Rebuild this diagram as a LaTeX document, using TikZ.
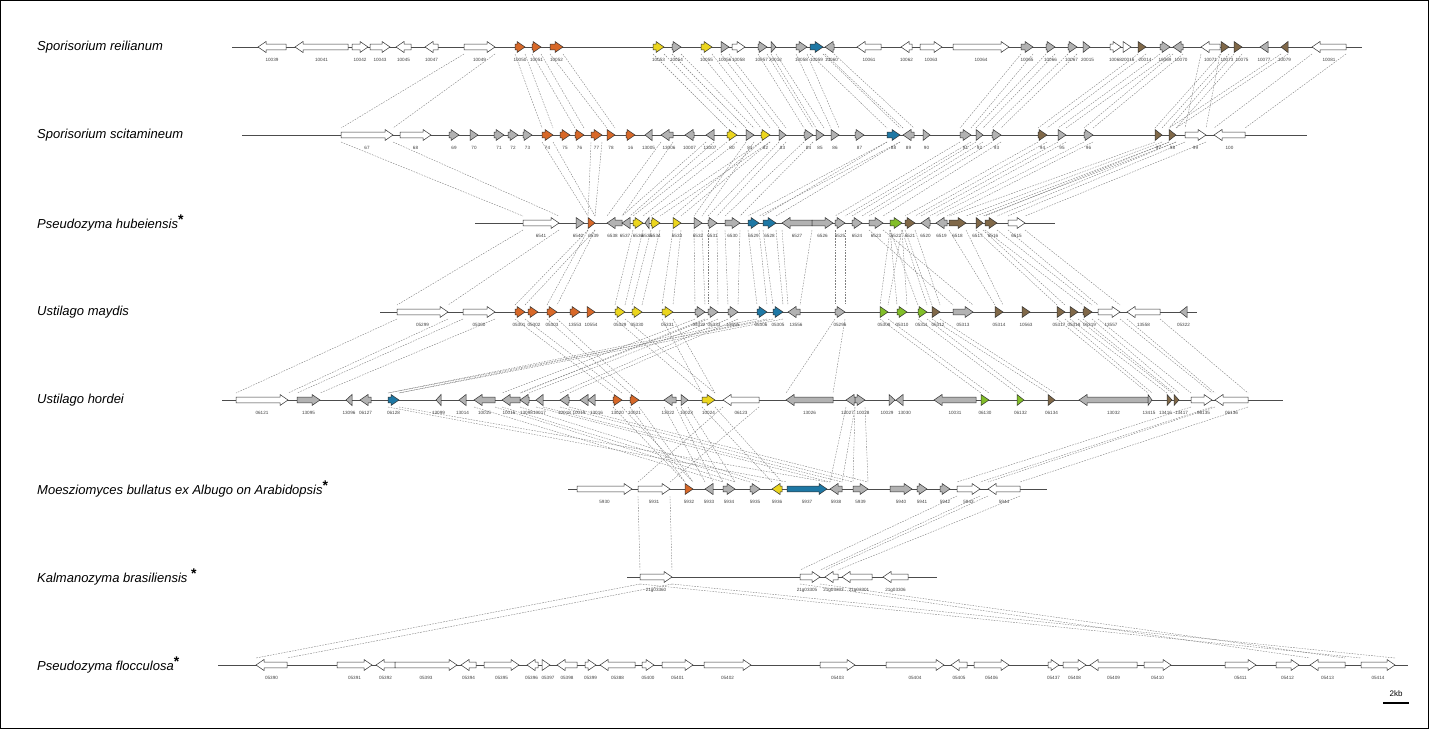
\documentclass[tikz,border=0pt]{standalone}
\usepackage{fontspec}
\setmainfont{Liberation Sans}
\pgfdeclarelayer{background}
\pgfdeclarelayer{paper}
\pgfsetlayers{paper,background,main}
\definecolor{gor}{RGB}{216,104,40}
\definecolor{gye}{RGB}{236,214,30}
\definecolor{ggr}{RGB}{178,178,178}
\definecolor{gbl}{RGB}{30,120,165}
\definecolor{ggn}{RGB}{130,190,40}
\definecolor{gbr}{RGB}{128,104,72}
\tikzset{
  gene/.style={draw=black!80, line width=0.5pt, line join=miter},
  glabel/.style={font=\fontsize{4.6}{5}\selectfont, text=black!75, inner sep=0pt},
  species/.style={font=\fontsize{13}{15}\selectfont\itshape, inner sep=0pt, anchor=west},
  backbone/.style={draw=black!70, line width=1pt},
  conn/.style={draw=black!50, line width=0.4pt, dash pattern=on 1.6pt off 1.2pt},
}
\def\rowy{47}
\newcommand{\gnb}[7]{%
  \pgfmathsetmacro{\gL}{#3-#2}%
  \pgfmathsetmacro{\gh}{min(\gL,8)}%
  \pgfmathsetmacro{\gtip}{#4>0 ? #3 : #2}%
  \pgfmathsetmacro{\gbase}{#4>0 ? #2 : #3}%
  \pgfmathsetmacro{\ghx}{\gtip - (#4)*\gh}%
  \pgfmathsetmacro{\gmid}{(#2+#3)/2+(#7)}%
  \filldraw[gene, fill=#5] (\gbase,\rowy-2.8) -- (\ghx,\rowy-2.8) -- (\ghx,\rowy-5.5) -- (\gtip,\rowy) -- (\ghx,\rowy+5.5) -- (\ghx,\rowy+2.8) -- (\gbase,\rowy+2.8) -- cycle;
  \coordinate (#1tl) at (#2,\rowy-7);
  \coordinate (#1tr) at (#3,\rowy-7);
  \coordinate (#1bl) at (#2,\rowy+7);
  \coordinate (#1br) at (#3,\rowy+7);
  \node[glabel] (#1lab) at (\gmid,\rowy+13) {#6};
}
\newcommand{\gn}[6]{\gnb{#1}{#2}{#3}{#4}{#5}{#6}{0}}
\newcommand{\lk}[2]{%
  \begin{pgfonlayer}{background}
  \draw[conn] (#1bl) -- (#2tl);
  \draw[conn] (#1br) -- (#2tr);
  \end{pgfonlayer}
}
\newcommand{\bb}[4]{% name, x1, x2, y
  \coordinate (#1s) at (#2,#4);
  \coordinate (#1e) at (#3,#4);
  \draw[backbone] (#1s) -- (#1e);
}
\begin{document}
\begin{tikzpicture}[x=1pt,y=-1pt]
\useasboundingbox (0,0) rectangle (1429,729);
\begin{pgfonlayer}{paper}
\fill[white] (0,0) rectangle (1429,729);
\end{pgfonlayer}
\draw[black, line width=0.8pt] (0.4,0.4) rectangle (1428.6,728.6);

% species names
\node[species] (s1) at (37,47) {Sporisorium reilianum};
\node[species] (s2) at (37,135) {Sporisorium scitamineum};
\node[species] (s3) at (37,223) {Pseudozyma hubeiensis\raisebox{4pt}{\fontsize{14}{14}\selectfont\upshape\bfseries *}};
\node[species] (s4) at (37,312) {Ustilago maydis};
\node[species] (s5) at (37,400) {Ustilago hordei};
\node[species] (s6) at (37,489) {Moesziomyces bullatus ex Albugo on Arabidopsis\raisebox{4pt}{\fontsize{14}{14}\selectfont\upshape\bfseries *}};
\node[species] (s7) at (37,577) {Kalmanozyma brasiliensis \raisebox{4pt}{\fontsize{14}{14}\selectfont\upshape\bfseries *}};
\node[species] (s8) at (37,665) {Pseudozyma flocculosa\raisebox{4pt}{\fontsize{14}{14}\selectfont\upshape\bfseries *}};

% backbones
\bb{r1}{232}{1362}{47}
\bb{r2}{242}{1307}{135}
\bb{r3}{475}{1055}{223}
\bb{r4}{380}{1197}{312}
\bb{r5}{222}{1283}{400}
\bb{r6}{568}{1047}{489}
\bb{r7}{627}{937}{577}
\bb{r8}{218}{1408}{665}

% row 1
\def\rowy{47}
\gn{a1}{258}{286}{-1}{white}{10039}
\gn{a2}{295}{348}{-1}{white}{10041}
\gn{a3}{352}{368}{1}{white}{10042}
\gn{a4}{370}{390}{1}{white}{10043}
\gn{a5}{396}{411}{-1}{white}{10045}
\gn{a6}{425}{438}{-1}{white}{10047}
\gn{a7}{464}{495}{1}{white}{10049}
\gn{a8}{515}{525}{1}{gor}{10050}
\gn{a9}{532}{541}{1}{gor}{10051}
\gn{a10}{550}{563}{1}{gor}{10052}
\gn{a11}{653}{664}{1}{gye}{10053}
\gn{a12}{672}{681}{1}{ggr}{10054}
\gn{a13}{701}{712}{1}{gye}{10055}
\gn{a14}{721}{729}{1}{ggr}{10056}
\gn{a15}{732}{745}{1}{white}{10058}
\gnb{a16}{758}{767}{1}{ggr}{10057}{-1}
\gnb{a17}{771}{776}{1}{ggr}{20012}{2}
\gn{a18}{796}{807}{1}{ggr}{10058}
\gn{a19}{810}{823}{1}{gbl}{10059}
\gnb{a20}{825}{834}{-1}{ggr}{10060}{2}
\gn{a21}{857}{881}{-1}{white}{10061}
\gn{a22}{901}{912}{-1}{white}{10062}
\gn{a23}{920}{942}{1}{white}{10063}
\gn{a24}{953}{1009}{1}{white}{10064}
\gn{a25}{1021}{1033}{1}{ggr}{10065}
\gn{a26}{1046}{1055}{1}{ggr}{10066}
\gnb{a27}{1068}{1077}{1}{ggr}{10067}{-1}
\gnb{a28}{1083}{1090}{1}{ggr}{20015}{1}
\gn{a29}{1110}{1121}{1}{white}{10068}
\gnb{a30}{1123}{1131}{1}{white}{20016}{1}
\gnb{a31}{1138}{1146}{1}{gbr}{20014}{3}
\gn{a32}{1160}{1170}{1}{ggr}{10069}
\gnb{a33}{1173}{1183}{-1}{ggr}{10070}{3}
\gn{a34}{1201}{1220}{-1}{white}{10071}
\gnb{a35}{1221}{1229}{1}{gbr}{10073}{2}
\gnb{a36}{1234}{1242}{1}{gbr}{10075}{4}
\gn{a37}{1260}{1268}{-1}{ggr}{10077}
\gn{a38}{1281}{1288}{-1}{gbr}{10079}
\gn{a39}{1312}{1346}{-1}{white}{10081}

% row 2
\def\rowy{135}
\gn{b1}{341}{393}{1}{white}{67}
\gn{b2}{400}{431}{1}{white}{68}
\gn{b3}{449}{459}{1}{ggr}{69}
\gn{b4}{470}{478}{1}{ggr}{70}
\gn{b5}{494}{504}{1}{ggr}{71}
\gn{b6}{508}{518}{1}{ggr}{72}
\gn{b7}{523}{532}{1}{ggr}{73}
\gn{b8}{542}{553}{1}{gor}{74}
\gn{b9}{560}{570}{1}{gor}{75}
\gn{b10}{575}{584}{1}{gor}{76}
\gn{b11}{591}{602}{1}{gor}{77}
\gn{b12}{607}{615}{1}{gor}{78}
\gn{b13}{626}{635}{1}{gor}{16}
\gn{b14}{645}{652}{-1}{ggr}{13005}
\gnb{b15}{661}{673}{-1}{ggr}{13006}{2}
\gn{b16}{685}{694}{-1}{ggr}{10007}
\gn{b17}{706}{714}{-1}{ggr}{13007}
\gn{b18}{727}{737}{1}{gye}{80}
\gn{b19}{746}{754}{1}{ggr}{81}
\gn{b20}{761}{770}{1}{gye}{82}
\gn{b21}{779}{786}{1}{ggr}{83}
\gn{b22}{804}{813}{1}{ggr}{84}
\gn{b23}{816}{824}{1}{ggr}{85}
\gn{b24}{831}{839}{1}{ggr}{86}
\gn{b25}{855}{864}{1}{ggr}{87}
\gn{b26}{887}{900}{1}{gbl}{88}
\gn{b27}{903}{914}{-1}{ggr}{89}
\gn{b28}{923}{930}{1}{ggr}{90}
\gn{b29}{960}{971}{1}{ggr}{91}
\gn{b30}{976}{983}{1}{ggr}{92}
\gn{b31}{992}{1001}{1}{ggr}{93}
\gn{b32}{1038}{1047}{1}{gbr}{94}
\gn{b33}{1058}{1066}{1}{ggr}{95}
\gn{b34}{1084}{1093}{1}{ggr}{96}
\gn{b35}{1155}{1162}{1}{gbr}{97}
\gn{b36}{1169}{1176}{1}{gbr}{98}
\gn{b37}{1185}{1206}{1}{white}{99}
\gn{b38}{1214}{1245}{-1}{white}{100}

% row 3
\def\rowy{223}
\gn{c1}{523}{559}{1}{white}{6541}
\gnb{c2}{576}{584}{1}{ggr}{6540}{-2}
\gnb{c3}{588}{595}{1}{gor}{6539}{2}
\gnb{c4}{607}{622}{-1}{ggr}{6538}{-2}
\gnb{c5}{622}{630}{-1}{ggr}{6537}{-1}
\gn{c6}{633}{643}{1}{gye}{6536}
\gn{c7}{645}{649}{-1}{ggr}{6535}
\gn{c8}{651}{660}{1}{gye}{6534}
\gn{c9}{673}{681}{1}{gye}{6533}
\gn{c10}{694}{702}{1}{ggr}{6532}
\gn{c11}{708}{717}{1}{ggr}{6531}
\gn{c12}{725}{740}{1}{ggr}{6530}
\gn{c13}{748}{759}{1}{gbl}{6529}
\gn{c14}{763}{776}{1}{gbl}{6528}
\gn{c15}{782}{812}{-1}{ggr}{6527}
\gn{c16}{812}{833}{1}{ggr}{6526}
\gn{c17}{835}{845}{1}{ggr}{6525}
\gn{c18}{852}{862}{1}{ggr}{6524}
\gn{c19}{869}{883}{1}{ggr}{6523}
\gn{c20}{890}{902}{1}{ggn}{6522}
\gn{c21}{905}{915}{1}{gbr}{6521}
\gn{c22}{921}{930}{-1}{ggr}{6520}
\gn{c23}{936}{947}{-1}{ggr}{6519}
\gn{c24}{949}{966}{1}{gbr}{6518}
\gnb{c25}{976}{983}{1}{gbr}{6517}{-2}
\gnb{c26}{985}{997}{1}{gbr}{6516}{2}
\gn{c27}{1008}{1025}{1}{white}{6515}

% row 4
\def\rowy{312}
\gn{d1}{397}{448}{1}{white}{05299}
\gn{d2}{463}{495}{1}{white}{05300}
\gnb{d3}{515}{525}{1}{gor}{05301}{-1}
\gnb{d4}{528}{538}{1}{gor}{05302}{1}
\gn{d5}{547}{557}{1}{gor}{05303}
\gn{d6}{570}{580}{1}{gor}{13553}
\gn{d7}{587}{595}{1}{gor}{10554}
\gn{d8}{615}{625}{1}{gye}{05329}
\gn{d9}{632}{642}{1}{gye}{05330}
\gn{d10}{662}{673}{1}{gye}{05331}
\gnb{d11}{695}{705}{1}{ggr}{05332}{-1}
\gnb{d12}{708}{718}{1}{ggr}{05333}{1}
\gn{d13}{728}{738}{1}{ggr}{13555}
\gnb{d14}{757}{767}{1}{gbl}{05306}{-1}
\gnb{d15}{773}{783}{1}{gbl}{05305}{0}
\gnb{d16}{788}{800}{-1}{ggr}{13556}{2}
\gn{d17}{835}{845}{1}{ggr}{05296}
\gn{d18}{880}{888}{1}{ggn}{05308}
\gn{d19}{897}{907}{1}{ggn}{05310}
\gnb{d20}{918}{927}{1}{ggn}{05311}{-1}
\gnb{d21}{932}{940}{1}{gbr}{05312}{2}
\gn{d22}{953}{973}{1}{ggr}{05313}
\gn{d23}{995}{1003}{1}{gbr}{05314}
\gn{d24}{1022}{1030}{1}{gbr}{10563}
\gnb{d25}{1057}{1065}{1}{gbr}{05317}{-2}
\gn{d26}{1070}{1078}{1}{gbr}{05318}
\gnb{d27}{1083}{1092}{1}{gbr}{05319}{2}
\gnb{d28}{1098}{1120}{1}{white}{13557}{2}
\gn{d29}{1127}{1160}{-1}{white}{13558}
\gn{d30}{1180}{1187}{-1}{ggr}{05322}

% row 5
\def\rowy{400}
\gn{e1}{236}{288}{1}{white}{06121}
\gn{e2}{297}{320}{1}{ggr}{13095}
\gn{e3}{346}{352}{-1}{ggr}{13096}
\gn{e4}{360}{371}{-1}{ggr}{06127}
\gn{e5}{388}{399}{1}{gbl}{06128}
\gn{e6}{436}{441}{-1}{ggr}{13099}
\gn{e7}{459}{466}{-1}{ggr}{13014}
\gn{e8}{474}{495}{-1}{ggr}{10015}
\gnb{e9}{502}{520}{-1}{ggr}{10016}{-2}
\gnb{e10}{520}{529}{-1}{ggr}{13098}{2}
\gn{e11}{536}{543}{-1}{ggr}{10017}
\gn{e12}{560}{569}{-1}{ggr}{10018}
\gnb{e13}{580}{588}{-1}{ggr}{10019}{-5}
\gnb{e14}{588}{595}{-1}{ggr}{13016}{5}
\gn{e15}{613}{622}{1}{gor}{13020}
\gn{e16}{630}{639}{1}{gor}{10021}
\gnb{e17}{664}{676}{-1}{ggr}{13022}{-2}
\gnb{e18}{681}{688}{1}{ggr}{10023}{2}
\gn{e19}{702}{715}{1}{gye}{10024}
\gn{e20}{723}{759}{-1}{white}{06123}
\gn{e21}{786}{833}{-1}{ggr}{13026}
\gnb{e22}{846}{855}{-1}{ggr}{13027}{-3}
\gnb{e23}{855}{865}{1}{ggr}{10028}{3}
\gnb{e24}{889}{895}{1}{ggr}{10029}{-5}
\gnb{e25}{896}{903}{-1}{ggr}{13030}{5}
\gn{e26}{934}{976}{-1}{ggr}{10031}
\gn{e27}{981}{989}{1}{ggn}{06130}
\gn{e28}{1017}{1024}{1}{ggn}{06132}
\gn{e29}{1048}{1055}{1}{gbr}{06134}
\gn{e30}{1079}{1148}{-1}{ggr}{13032}
\gnb{e31}{1148}{1152}{1}{ggr}{13415}{-1}
\gnb{e32}{1167}{1172}{1}{gbr}{13416}{-4}
\gnb{e33}{1174}{1179}{1}{gbr}{13417}{5}
\gnb{e34}{1191}{1212}{1}{white}{06135}{2}
\gn{e35}{1215}{1248}{-1}{white}{06136}

% row 6
\def\rowy{489}
\gn{f1}{577}{632}{1}{white}{5930}
\gn{f2}{638}{670}{1}{white}{5931}
\gn{f3}{685}{693}{1}{gor}{5932}
\gn{f4}{705}{713}{-1}{ggr}{5933}
\gn{f5}{723}{735}{1}{ggr}{5934}
\gn{f6}{750}{760}{1}{ggr}{5935}
\gn{f7}{772}{782}{-1}{gye}{5936}
\gn{f8}{787}{827}{1}{gbl}{5937}
\gn{f9}{830}{842}{-1}{ggr}{5938}
\gn{f10}{853}{868}{1}{ggr}{5939}
\gn{f11}{890}{912}{1}{ggr}{5940}
\gn{f12}{917}{927}{1}{ggr}{5941}
\gn{f13}{940}{950}{1}{ggr}{5942}
\gn{f14}{957}{980}{1}{white}{5943}
\gn{f15}{988}{1020}{-1}{white}{5944}

% row 7
\def\rowy{577}
\gn{g1}{640}{672}{1}{white}{21g03360}
\gnb{g2}{800}{820}{1}{white}{21g03305}{-3}
\gnb{g3}{825}{838}{-1}{white}{21g03303}{2}
\gnb{g4}{842}{872}{-1}{white}{21g03301}{2}
\gn{g5}{883}{908}{-1}{white}{21g03306}

% row 8
\def\rowy{665}
\gn{h1}{256}{287}{-1}{white}{05390}
\gn{h2}{337}{372}{1}{white}{05391}
\gn{h3}{376}{395}{-1}{white}{05392}
\gn{h4}{395}{457}{1}{white}{05393}
\gn{h5}{461}{476}{-1}{white}{05394}
\gn{h6}{484}{519}{1}{white}{05395}
\gnb{h7}{527}{538}{-1}{white}{05396}{-1}
\gnb{h8}{542}{550}{1}{white}{05397}{2}
\gn{h9}{557}{577}{-1}{white}{05398}
\gn{h10}{585}{596}{1}{white}{05399}
\gn{h11}{600}{635}{-1}{white}{05388}
\gn{h12}{642}{654}{1}{white}{05400}
\gn{h13}{662}{693}{1}{white}{05401}
\gn{h14}{704}{751}{1}{white}{05402}
\gn{h15}{820}{855}{1}{white}{05403}
\gn{h16}{886}{944}{1}{white}{05404}
\gn{h17}{951}{967}{-1}{white}{05405}
\gn{h18}{974}{1009}{1}{white}{05406}
\gn{h19}{1048}{1059}{1}{white}{05437}
\gn{h20}{1063}{1086}{1}{white}{05408}
\gn{h21}{1090}{1137}{-1}{white}{05409}
\gn{h22}{1144}{1171}{1}{white}{05410}
\gn{h23}{1225}{1256}{1}{white}{05411}
\gn{h24}{1276}{1299}{1}{white}{05412}
\gn{h25}{1310}{1345}{-1}{white}{05413}
\gn{h26}{1361}{1395}{1}{white}{05414}

% scale bar
\node[font=\fontsize{8}{9}\selectfont, inner sep=0pt] (kb) at (1396,694) {2kb};
\coordinate (kbs) at (1383,703);
\coordinate (kbe) at (1409,703);
\draw[line width=1.2pt] (kbs) -- (kbe);

% links row1-row2
\lk{a7}{b1}\lk{a8}{b8}\lk{a9}{b10}\lk{a10}{b12}
\lk{a11}{b18}\lk{a12}{b19}\lk{a13}{b20}\lk{a14}{b21}\lk{a16}{b22}\lk{a17}{b23}
\lk{a18}{b24}\lk{a19}{b26}\lk{a20}{b27}\lk{a25}{b29}\lk{a26}{b30}\lk{a27}{b31}
\lk{a31}{b32}\lk{a32}{b33}\lk{a33}{b34}\lk{a35}{b35}\lk{a36}{b36}\lk{a38}{b36}
\lk{a34}{b37}\lk{a39}{b38}
% links row2-row3
\lk{b1}{c1}\lk{b8}{c3}\lk{b11}{c3}\lk{b18}{c6}\lk{b20}{c8}\lk{b20}{c9}
\lk{b15}{c4}\lk{b17}{c5}\lk{b19}{c10}\lk{b21}{c11}\lk{b22}{c12}\lk{b26}{c13}
\lk{b26}{c14}\lk{b29}{c17}\lk{b30}{c18}\lk{b31}{c19}\lk{b32}{c21}\lk{b33}{c22}
\lk{b34}{c23}\lk{b35}{c24}\lk{b36}{c25}\lk{b36}{c26}\lk{b37}{c27}
% links row3-row4
\lk{c1}{d1}\lk{c3}{d3}\lk{c3}{d5}\lk{c6}{d8}\lk{c8}{d9}\lk{c9}{d10}
\lk{c10}{d11}\lk{c11}{d12}\lk{c12}{d13}\lk{c13}{d14}\lk{c14}{d15}\lk{c15}{d16}
\lk{c17}{d17}\lk{c20}{d18}\lk{c20}{d19}\lk{c20}{d20}\lk{c21}{d21}\lk{c19}{d22}
\lk{c24}{d23}\lk{c25}{d25}\lk{c26}{d27}\lk{c27}{d28}
% links row4-row5
\lk{d1}{e1}\lk{d2}{e2}\lk{d14}{e5}\lk{d15}{e5}\lk{d3}{e15}\lk{d5}{e16}
\lk{d8}{e19}\lk{d10}{e19}\lk{d11}{e9}\lk{d12}{e10}\lk{d13}{e12}\lk{d17}{e21}
\lk{d18}{e27}\lk{d20}{e28}\lk{d21}{e29}\lk{d25}{e31}\lk{d26}{e32}\lk{d27}{e33}
\lk{d28}{e34}\lk{d29}{e35}
% links row5-row6
\lk{e5}{f8}\lk{e15}{f3}\lk{e16}{f3}\lk{e19}{f7}\lk{e20}{f2}\lk{e17}{f4}
\lk{e18}{f5}\lk{e22}{f9}\lk{e23}{f10}\lk{e34}{f14}\lk{e35}{f15}
\lk{e8}{f5}\lk{e9}{f6}\lk{e11}{f9}\lk{e12}{f10}
% links row6-row7
\lk{f2}{g1}\lk{f14}{g2}\lk{f15}{g3}
% links row7-row8
\lk{g1}{h1}\lk{g1}{h26}\lk{g2}{h25}
\end{tikzpicture}
\end{document}
